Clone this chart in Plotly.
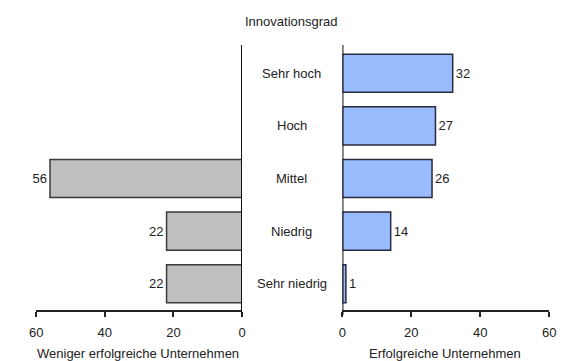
import plotly.graph_objects as go

# Innovation level categories (top to bottom)
categories = ["Sehr hoch", "Hoch", "Mittel", "Niedrig", "Sehr niedrig"]
less_successful = [None, None, 56, 22, 22]
successful = [32, 27, 26, 14, 1]
tick_vals = [0, 20, 40, 60]

W, H = 563, 361
FONT = "Liberation Sans, Arial, sans-serif"
TXT = dict(family=FONT, size=13, color="#222")


def px_x(p):
    return min(1.0, max(0.0, p / W))


def px_y(p):
    return min(1.0, max(0.0, 1 - p / H))


fig = go.Figure()

fig.add_trace(go.Bar(
    y=categories, x=less_successful, orientation="h",
    xaxis="x", yaxis="y",
    marker=dict(color="#bfbfbf", line=dict(color="#3a3a3a", width=1.5)),
    text=[("" if v is None else str(v)) for v in less_successful],
    textposition="outside", cliponaxis=False, textfont=TXT,
))
fig.add_trace(go.Bar(
    y=categories, x=successful, orientation="h",
    xaxis="x2", yaxis="y2",
    marker=dict(color="#99bbff", line=dict(color="#2a2a3a", width=1.5)),
    text=[str(v) for v in successful],
    textposition="outside", cliponaxis=False, textfont=TXT,
))

ydom = [px_y(310), px_y(47)]
yaxis_common = dict(
    domain=ydom, categoryorder="array", categoryarray=categories[::-1],
    showticklabels=False, showline=False, showgrid=False, zeroline=False,
    ticks="",
)
xaxis_common = dict(
    tickvals=tick_vals, showgrid=False, zeroline=False,
    showline=True, linecolor="#222", linewidth=1.5,
    ticks="outside", ticklen=5, tickcolor="#222", tickwidth=1.5,
    tickfont=TXT, ticklabelstandoff=5,
)

fig.update_layout(
    width=W, height=H, autosize=False,
    margin=dict(l=0, r=0, t=0, b=0, pad=0),
    paper_bgcolor="white", plot_bgcolor="white",
    showlegend=False, bargap=0.276,
    font=TXT,
    xaxis=dict(xaxis_common, domain=[px_x(30), px_x(241)], anchor="y",
               range=[60, 0], autorange=False),
    xaxis2=dict(xaxis_common, domain=[px_x(344), px_x(556)], anchor="y2",
                range=[0, 60], autorange=False),
    yaxis=dict(yaxis_common, anchor="x"),
    yaxis2=dict(yaxis_common, anchor="x2"),
)

# Vertical zero lines of both panels
for xr in ("x", "x2"):
    fig.add_shape(type="line", xref=xr, yref="paper", x0=0, x1=0,
                  y0=px_y(315), y1=px_y(45),
                  line=dict(color="#111", width=2))

# Category labels between the panels
for c in categories:
    fig.add_annotation(x=px_x(292), xref="paper", y=c, yref="y",
                       text=c, showarrow=False, xanchor="center", font=TXT)

fig.add_annotation(x=px_x(292), y=px_y(22), xref="paper", yref="paper",
                   text="Innovationsgrad", showarrow=False,
                   xanchor="center", yanchor="middle", font=TXT)
fig.add_annotation(x=px_x(134), y=px_y(353), xref="paper", yref="paper",
                   text="Weniger erfolgreiche Unternehmen", showarrow=False,
                   xanchor="center", yanchor="middle", font=TXT)
fig.add_annotation(x=px_x(449), y=px_y(353), xref="paper", yref="paper",
                   text="Erfolgreiche Unternehmen", showarrow=False,
                   xanchor="center", yanchor="middle", font=TXT)

fig.write_html("out.html", config={"responsive": False})
